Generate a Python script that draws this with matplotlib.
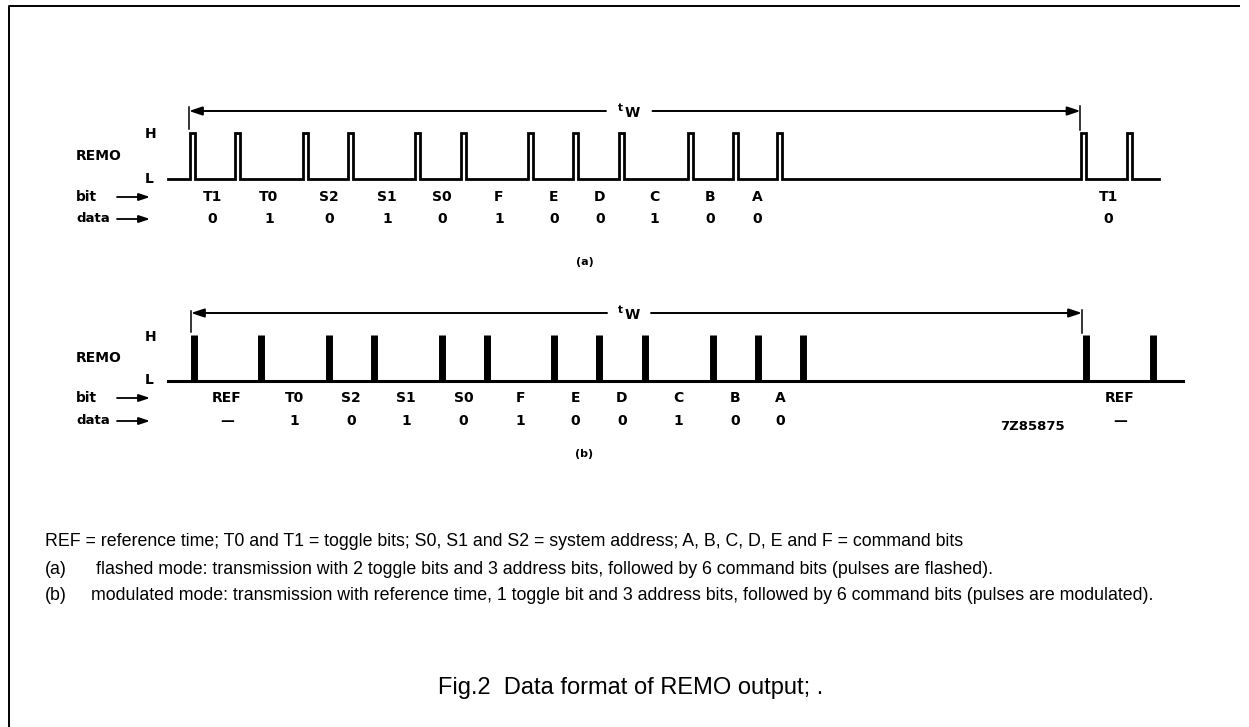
#!/usr/bin/env python3

# Data format of the REMO output, two pulse trains on a white page.
# Axes run in image pixels so the positions can be read straight off the figure.

import matplotlib
matplotlib.use("Agg")
from matplotlib import pyplot as plt

W, H = 1249, 727

# left edges of the flashed pulses, and centres of the modulated ones
pulses_a = [190, 235.5, 303.5, 348, 415, 461, 528.5, 573.5, 619, 688, 733, 777.5, 1081.5, 1127.5]
pulses_b = [194.5, 261.5, 329, 374, 442, 487, 554.5, 599.5, 645.5, 713, 758, 803, 1086, 1153]

bits_a = ["T1", "T0", "S2", "S1", "S0", "F", "E", "D", "C", "B", "A", "T1"]
data_a = ["0", "1", "0", "1", "0", "1", "0", "0", "1", "0", "0", "0"]
label_x_a = [212.5, 269, 329, 387, 442, 499, 554, 600, 654.5, 710.5, 757, 1108.5]

bits_b = ["REF", "T0", "S2", "S1", "S0", "F", "E", "D", "C", "B", "A", "REF"]
data_b = ["\u2014", "1", "0", "1", "0", "1", "0", "0", "1", "0", "0", "\u2014"]
label_x_b = [227, 294.5, 351, 406, 463.5, 520.5, 575.5, 622, 678.5, 735, 780.5, 1120]

note_ref = "REF = reference time; T0 and T1 = toggle bits; S0, S1 and S2 = system address; A, B, C, D, E and F = command bits"
note_a = "flashed mode: transmission with 2 toggle bits and 3 address bits, followed by 6 command bits (pulses are flashed)."
note_b = "modulated mode: transmission with reference time, 1 toggle bit and 3 address bits, followed by 6 command bits (pulses are modulated)."
caption = "Fig.2  Data format of REMO output; ."

ARROW = "-|>,head_length=0.6,head_width=0.2"


def tw_arrow(ax, x0, x1, y, gap0, gap1, tick0, tick1):
	# the two halves of the tw dimension line plus the end ticks
	for tip, tail in ((x0, gap0), (x1, gap1)):
		ax.annotate("", xy=(tip, y), xytext=(tail, y),
					arrowprops=dict(arrowstyle=ARROW, color="black", lw=1.4, shrinkA=0, shrinkB=0, mutation_scale=13))
	ax.plot([x0, x0], tick0, color="black", lw=1.1)
	ax.plot([x1, x1], tick1, color="black", lw=1.1)
	mid = (gap0 + gap1) / 2
	ax.text(mid - 8.5, y - 3, "t", fontsize=7.5, weight="bold", ha="center", va="center")
	ax.text(mid + 3, y + 2, "W", fontsize=10, weight="bold", ha="center", va="center")


def side_labels(ax, y_h, y_l, y_remo, y_bit, y_data):
	ax.text(150.5, y_h, "H", fontsize=10, weight="bold", ha="center", va="center")
	ax.text(149.5, y_l, "L", fontsize=10, weight="bold", ha="center", va="center")
	ax.text(76, y_remo, "REMO", fontsize=10, weight="bold", ha="left", va="center")
	ax.text(76, y_bit, "bit", fontsize=10, weight="bold", ha="left", va="center")
	ax.text(76, y_data, "data", fontsize=9.5, weight="bold", ha="left", va="center")
	for y in (y_bit, y_data):
		ax.annotate("", xy=(150, y), xytext=(117, y),
					arrowprops=dict(arrowstyle=ARROW, color="black", lw=1.3, shrinkA=0, shrinkB=0, mutation_scale=11))


def bit_row(ax, xs, bits, data, y_bit, y_data):
	for x, b, d in zip(xs, bits, data):
		ax.text(x, y_bit, b, fontsize=10, weight="bold", ha="center", va="center")
		ax.text(x, y_data, d, fontsize=10, weight="bold", ha="center", va="center")


plt.rcParams["font.family"] = ["DejaVu Sans"]

fig = plt.figure(figsize=(W / 100, H / 100), dpi=100, facecolor="white")
ax = fig.add_axes([0, 0, 1, 1])
ax.set_xlim(0, W)
ax.set_ylim(H, 0)
ax.axis("off")

# page frame, only the top and left edges are in the scan
ax.plot([1239, 9.5, 9.5], [6, 6, H], color="black", lw=1.4)

# (a) flashed pulses, drawn as one stepped line
top_a, low_a, width_a = 133, 179, 5
xs = [168.5]
ys = [low_a]
for p in pulses_a:
	xs += [p, p, p + width_a, p + width_a]
	ys += [low_a, top_a, top_a, low_a]
xs.append(1159.5)
ys.append(low_a)
ax.plot(xs, ys, color="black", lw=2, solid_joinstyle="miter")

# (b) modulated pulses, solid bars on the baseline
top_b, low_b = 335, 380.5
ax.plot([168.5, 1183.5], [low_b, low_b], color="black", lw=2.2)
ax.vlines(pulses_b, top_b, low_b, color="black", lw=5)

tw_arrow(ax, 189, 1080.5, 111, 606, 652.5, (107, 129), (106, 130))
tw_arrow(ax, 191, 1082, 313, 607, 651, (311, 332), (310, 333))

side_labels(ax, 134, 179, 156, 197, 219)
side_labels(ax, 337, 380, 358, 398, 421)
bit_row(ax, label_x_a, bits_a, data_a, 197, 219)
bit_row(ax, label_x_b, bits_b, data_b, 398, 421)

ax.text(584.5, 262, "(a)", fontsize=8, weight="bold", ha="center", va="center")
ax.text(584.5, 454, "(b)", fontsize=8, weight="bold", ha="center", va="center")
ax.text(1032, 427, "7Z85875", fontsize=9.5, weight="bold", ha="center", va="center")

sans = ["Liberation Sans", "DejaVu Sans"]
ax.text(44.7, 542, note_ref, fontsize=12.8, family=sans, ha="left", va="center")
ax.text(44.7, 569, "(a)", fontsize=12.8, family=sans, ha="left", va="center")
ax.text(95.7, 569, note_a, fontsize=12.8, family=sans, ha="left", va="center")
ax.text(44.7, 595, "(b)", fontsize=12.8, family=sans, ha="left", va="center")
ax.text(90.7, 595, note_b, fontsize=12.8, family=sans, ha="left", va="center")
ax.text(438, 688, caption, fontsize=17, family=sans, ha="left", va="center")

fig.savefig("out.png", dpi=100)
